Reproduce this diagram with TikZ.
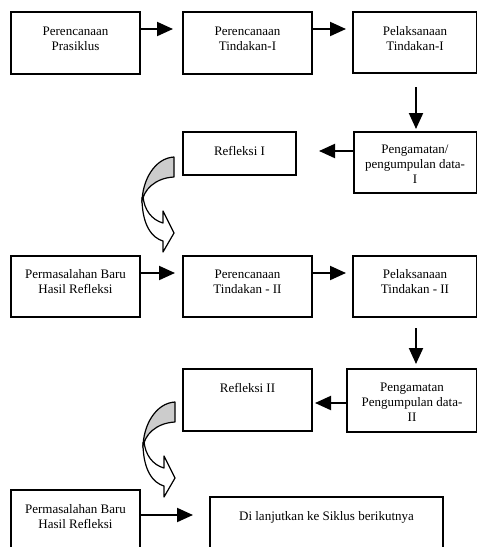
\documentclass[tikz,border=0pt]{standalone}
\usepackage{fontspec}
\setmainfont{Liberation Serif}
\usetikzlibrary{arrows.meta}
\tikzset{
  boxline/.style={draw=black, line width=1.5pt},
  lbl/.style={font=\fontsize{13}{15}\selectfont, align=center, inner sep=0pt},
  conn/.style={line width=2pt, -{Triangle[length=16pt,width=14pt]}},
  fold/.style={fill=black!20, draw=black, line width=1.2pt, line join=round},
  front/.style={fill=white, draw=black, line width=1.2pt, line join=round}
}
\begin{document}
\begin{tikzpicture}[x=1pt,y=-1pt]
\useasboundingbox (0,0) rectangle (478,547);
\clip (0,0) rectangle (478,547);
% boxes
\newcommand{\bx}[5]{\node[boxline, rectangle, inner sep=0pt, minimum width={#4-#2}, minimum height={#5-#3}] (#1) at ({(#2+#4)/2},{(#3+#5)/2}) {};}
\bx{b1}{11}{12}{140}{74}
\bx{b2}{183}{12}{312}{74}
\bx{b3}{353}{12}{476.5}{73}
\bx{b4}{354}{132}{476.5}{193}
\bx{b5}{183}{132}{296}{175}
\bx{b6}{11}{256}{140}{317}
\bx{b7}{183}{256}{312}{317}
\bx{b8}{353}{256}{476.5}{317}
\bx{b9}{347}{369}{476.5}{432}
\bx{b10}{183}{369}{312}{431}
\bx{b11}{11}{490}{140}{565}
\bx{b12}{210}{497}{443}{565}
% labels
\node[lbl] (t1) at (75.5,39) {Perencanaan\\Prasiklus};
\node[lbl] (t2) at (247.5,39) {Perencanaan\\Tindakan-I};
\node[lbl] (t3) at (415,39) {Pelaksanaan\\Tindakan-I};
\node[lbl] (t4) at (415,164) {Pengamatan/\\pengumpulan data-\\I};
\node[lbl] (t5) at (239.5,151) {Refleksi I};
\node[lbl] (t6) at (75.5,282) {Permasalahan Baru\\Hasil Refleksi};
\node[lbl] (t7) at (247.5,282) {Perencanaan\\Tindakan - II};
\node[lbl] (t8) at (415,282) {Pelaksanaan\\Tindakan - II};
\node[lbl] (t9) at (412,402) {Pengamatan\\Pengumpulan data-\\II};
\node[lbl] (t10) at (247.5,388) {Refleksi II};
\node[lbl] (t11) at (75.5,517) {Permasalahan Baru\\Hasil Refleksi};
\node[lbl] (t12) at (326.5,517) {Di lanjutkan ke Siklus berikutnya};
% connectors
\coordinate (e1) at (173,29);
\draw[conn] (b1.east |- e1) -- (e1);
\coordinate (e2) at (346,29);
\draw[conn] (b2.east |- e2) -- (e2);
\coordinate (s3) at (416,87);
\draw[conn] (s3) -- (416,129);
\coordinate (e4) at (319,151);
\draw[conn] (b4.west |- e4) -- (e4);
\coordinate (e6) at (175,273);
\draw[conn] (b6.east |- e6) -- (e6);
\coordinate (e7) at (346,273);
\draw[conn] (b7.east |- e7) -- (e7);
\coordinate (s8) at (416,328);
\draw[conn] (s8) -- (416,364);
\coordinate (e9) at (315,403);
\draw[conn] (b9.west |- e9) -- (e9);
\coordinate (e11) at (193,515);
\draw[conn] (b11.east |- e11) -- (e11);
% curved arrows
\foreach \dx/\dy in {0/0, 1/245}{
\begin{scope}[shift={(\dx,\dy)}]
\draw[fold] (174,157) .. controls (155,158) and (142,180) .. (142,203)
   .. controls (143,190) and (155,178) .. (174,177) -- cycle;
\draw[front] (142,198) .. controls (142,225) and (152,238) .. (163,241)
   -- (163,252) -- (174,233) -- (163,211) -- (163,223)
   .. controls (152,220) and (144,210) .. (143,196) -- cycle;
\end{scope}
}
\end{tikzpicture}
\end{document}
